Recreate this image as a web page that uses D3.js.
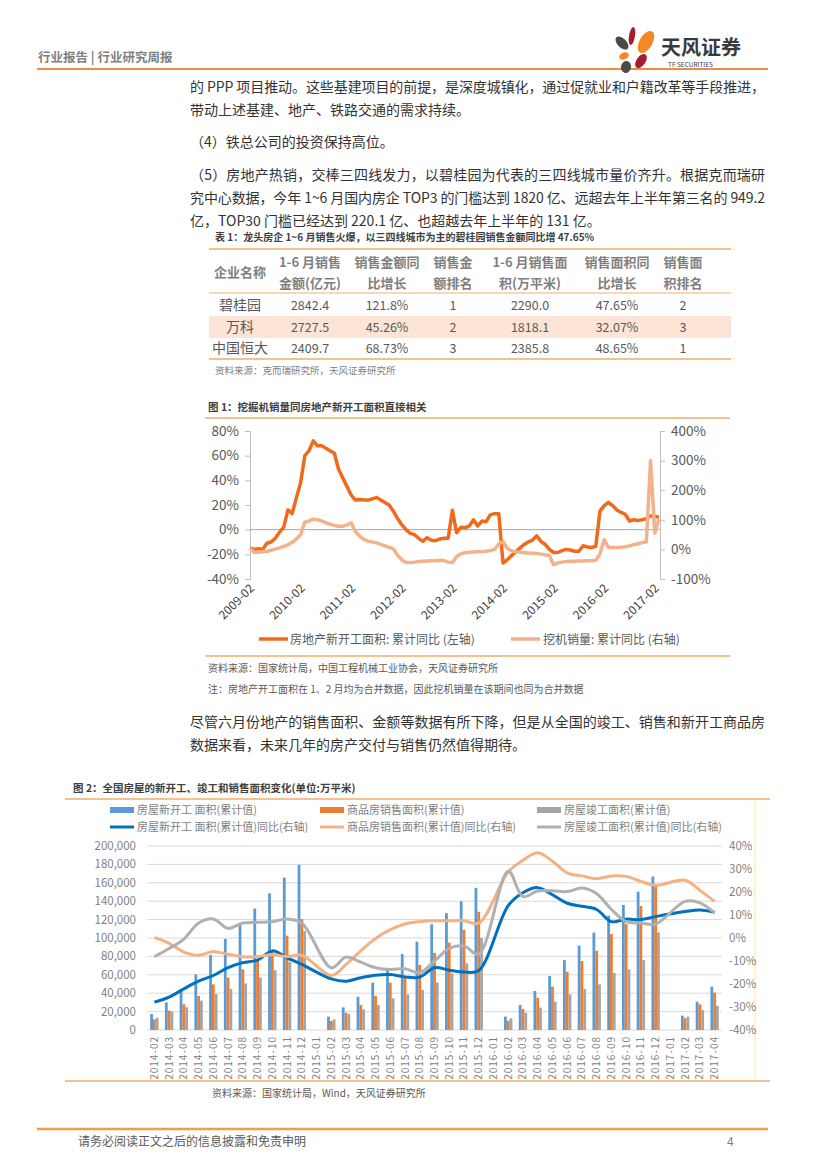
<!DOCTYPE html>
<html><head><meta charset="utf-8">
<script src="https://cdn.jsdelivr.net/npm/d3@7"></script>
<style>
body{margin:0;background:#fff}
svg{display:block}
text{font-family:"Noto Sans CJK SC","Noto Sans",sans-serif}
</style></head>
<body><svg id="page" width="827" height="1169"></svg>
<script>
// ---------------- DATA ----------------
const headerLeft = "行业报告 | 行业研究周报";
const para1 = [
  "的 PPP 项目推动。这些基建项目的前提，是深度城镇化，通过促就业和户籍改革等手段推进，",
  "带动上述基建、地产、铁路交通的需求持续。"
];
const para2 = "（4）铁总公司的投资保持高位。";
const para3 = [
  "（5）房地产热销，交棒三四线发力，以碧桂园为代表的三四线城市量价齐升。根据克而瑞研",
  "究中心数据，今年 1~6 月国内房企 TOP3 的门槛达到 1820 亿、远超去年上半年第三名的 949.2",
  "亿，TOP30 门槛已经达到 220.1 亿、也超越去年上半年的 131 亿。"
];
const para4 = [
  "尽管六月份地产的销售面积、金额等数据有所下降，但是从全国的竣工、销售和新开工商品房",
  "数据来看，未来几年的房产交付与销售仍然值得期待。"
];

// Table 1
const tableTitle = "表 1：龙头房企 1~6 月销售火爆，以三四线城市为主的碧桂园销售金额同比增 47.65%";
const tableHead1 = ["企业名称","1-6 月销售","销售金额同","销售金","1-6 月销售面","销售面积同","销售面"];
const tableHead2 = ["","金额(亿元)","比增长","额排名","积(万平米)","比增长","积排名"];
const companies = ["碧桂园","万科","中国恒大"];
const salesAmount = ["2842.4","2727.5","2409.7"];
const salesAmountYoY = ["121.8%","45.26%","68.73%"];
const salesAmountRank = ["1","2","3"];
const salesArea = ["2290.0","1818.1","2385.8"];
const salesAreaYoY = ["47.65%","32.07%","48.65%"];
const salesAreaRank = ["2","3","1"];
const tableSource = "资料来源：克而瑞研究所，天风证券研究所";

// Figure 1 (monthly 2009-02 .. 2017-03)
const fig1Title = "图 1：挖掘机销量同房地产新开工面积直接相关";
const fig1TickLabels = ["2009-02","2010-02","2011-02","2012-02","2013-02","2014-02","2015-02","2016-02","2017-02"];
const newStartsYoY = [-15,-16,-15.5,-16,-11,-10,-7,-2,2,16,13,26,
  38,60,64,72,68,68,66,64,62,49,42,35,
  28,24,24.5,24,24,25,26,24,22,20,15,9,
  4,0,-3,-4,-7,-9.5,-6.5,-8.5,-9,-7.5,-7,-7,
  15.7,-2.5,2,1.5,3,8,3,7,6.5,12,13,13,
  -27,-24.5,-21,-18,-15,-12,-10,-8.5,-5,-9.5,-12,-16,
  -18.5,-18.5,-17,-16,-16.5,-17.5,-17.5,-13,-14,-14.5,-13.5,15,
  19.5,22,19.5,16,14,12.5,7,8,7.5,8,9,11,
  11,10];
const excavatorYoY = [3,-10,-10,-8,-6,-3,1,5,10,16,24,35,
  50,92,96,102,100,96,90,85,81,78,78,83,
  90,60,45,34,28,25,22,17,12,7,2,-20,
  -35,-44,-44,-43,-41,-40,-39,-38,-38,-37,-38,-43,
  -44,-24,-15,-11,-10,-9,-8,-7,-6,-4,0,18,
  27,4,-5,-8,-10,-11,-12,-13,-14,-16,-18,-21,
  -52,-45,-43,-41,-40,-40,-39,-39,-38,-38,-37,-15,
  33,6,6,6,7,9,12,16,19,23,25,300,
  55,103];
const fig1LeftTicks = [-40,-20,0,20,40,60,80];
const fig1RightTicks = [-100,0,100,200,300,400];
const fig1Legend = ["房地产新开工面积: 累计同比 (左轴)","挖机销量: 累计同比 (右轴)"];
const fig1Source = "资料来源：国家统计局，中国工程机械工业协会，天风证券研究所";
const fig1Note = "注：房地产开工面积在 1、2 月均为合并数据，因此挖机销量在该期间也同为合并数据";

// Figure 2
const fig2Title = "图 2：全国房屋的新开工、竣工和销售面积变化(单位:万平米)";
const fig2Months = ["2014-02","2014-03","2014-04","2014-05","2014-06","2014-07","2014-08","2014-09","2014-10","2014-11","2014-12",
  "2015-01","2015-02","2015-03","2015-04","2015-05","2015-06","2015-07","2015-08","2015-09","2015-10","2015-11","2015-12",
  "2016-01","2016-02","2016-03","2016-04","2016-05","2016-06","2016-07","2016-08","2016-09","2016-10","2016-11","2016-12",
  "2017-01","2017-02","2017-03","2017-04"];
const newStartsArea = [17400,30000,42800,60500,81500,99000,115000,132000,148500,165600,179600,
  null,14500,24600,36200,51400,66000,82600,96000,115000,127000,140000,154500,
  null,14500,27200,42400,58700,76000,91700,105800,124300,135900,150400,166900,
  null,15600,30800,47100];
const salesArea2 = [11600,21000,28000,37000,49600,57000,66000,77000,87000,102500,120600,
  null,9800,18800,27200,37000,51400,56500,70700,83800,95000,109000,128500,
  null,10100,22800,35100,47100,63400,75000,86200,104300,115200,134800,157300,
  null,12700,27900,40600];
const completedArea = [13400,20000,24600,31900,39000,44600,50700,57000,65000,74000,107500,
  null,11600,17400,22500,27200,34400,38800,43500,51600,61500,72500,100000,
  null,12700,18800,24300,30800,38800,44600,49600,62000,66000,76000,106100,
  null,14500,21700,26400];
const newStartsAreaYoY = [-27.9,-25.7,-22.1,-18.8,-16.3,-12.9,-10.7,-9.6,-5.6,-8.6,-11.5,
  null,-17.8,-18.8,-17.3,-16.2,-15.9,-16.9,-17.0,-12.9,-14.0,-14.8,-14.1,
  null,14.1,19.7,21.9,18.8,15.1,13.8,12.4,7.1,8.2,8.0,9.3,
  null,11.5,12.2,11.2];
const salesAreaYoY2 = [0.2,-2.3,-6.1,-7.5,-5.9,-7.1,-8.1,-8.1,-7.2,-8.1,-7.5,
  null,-16.3,-11.5,-5.6,-0.2,3.6,6.1,7.1,7.5,7.5,7.5,6.5,
  null,28.7,33.8,37.1,33.4,28.3,27.0,25.8,27.0,26.8,24.6,22.9,
  null,25.1,20.7,15.9];
const completedAreaYoY = [-8.1,-4.6,-0.5,6.5,8.3,4.2,6.5,6.8,7.1,8.3,6.5,
  null,-12.9,-8.3,-10.5,-12.9,-13.7,-13.4,-15.1,-10.0,-4.5,-3.5,-7.0,
  null,29.0,18.0,20.4,20.5,20.2,21.7,19.2,12.4,7.1,6.5,6.1,
  null,15.9,15.3,10.9];
const fig2LeftTicks = [0,20000,40000,60000,80000,100000,120000,140000,160000,180000,200000];
const fig2RightTicks = [-40,-30,-20,-10,0,10,20,30,40];
const fig2Legend = ["房屋新开工 面积(累计值)","商品房销售面积(累计值)","房屋竣工面积(累计值)",
  "房屋新开工 面积(累计值)同比(右轴)","商品房销售面积(累计值)同比(右轴)","房屋竣工面积(累计值)同比(右轴)"];
const fig2Source = "资料来源：国家统计局，Wind，天风证券研究所";
const footerText = "请务必阅读正文之后的信息披露和免责申明";
const pageNumber = "4";

// ---------------- DRAW ----------------
const svg = d3.select("#page");
const ORANGE_LINE = "#ec8d3a";
const SEP_LINE = "#f3ad6b";
function t(x, y, s, o = {}) {
  const el = svg.append("text").attr("x", x).attr("y", y).text(s)
    .attr("font-size", o.size || 14).attr("fill", o.fill || "#333")
    .attr("text-anchor", o.anchor || "start");
  if (o.weight) el.attr("font-weight", o.weight);
  if (o.len) el.attr("textLength", o.len).attr("lengthAdjust", "spacing");
  return el;
}
function hline(x1, x2, y, c, w) {
  svg.append("line").attr("x1", x1).attr("x2", x2).attr("y1", y).attr("y2", y)
    .attr("stroke", c).attr("stroke-width", w);
}

// Header
t(38, 62, headerLeft, {size: 12.5, fill: "#7f7f7f", weight: "bold"});
hline(37, 768, 69, ORANGE_LINE, 2.2);
const petals = [
  {cx: 632, cy: 36, rx: 3, ry: 9, r: 10, c: "#a31d2e"},
  {cx: 646, cy: 42, rx: 6.5, ry: 12, r: 30, c: "#f08a24"},
  {cx: 622, cy: 43, rx: 4.5, ry: 8, r: -45, c: "#4a4a4a"},
  {cx: 624, cy: 56, rx: 5, ry: 3.5, r: -20, c: "#f08a24"},
  {cx: 641, cy: 61, rx: 4.5, ry: 8, r: 35, c: "#a31d2e"},
  {cx: 626, cy: 67, rx: 5, ry: 6, r: 10, c: "#4a4a4a"}
];
svg.selectAll("ellipse.petal").data(petals).join("ellipse").attr("class", "petal")
  .attr("cx", d => d.cx).attr("cy", d => d.cy).attr("rx", d => d.rx).attr("ry", d => d.ry)
  .attr("transform", d => `rotate(${d.r},${d.cx},${d.cy})`).attr("fill", d => d.c);
t(661, 55, "天风证券", {size: 20, fill: "#3a3a3a", weight: "bold"});
t(668, 67, "TF SECURITIES", {size: 6.5, fill: "#3a3a3a"});

// Body text
t(190, 92, para1[0], {len: 575});
t(190, 115, para1[1]);
t(190, 147, para2);
t(190, 180, para3[0], {len: 575});
t(190, 203, para3[1], {len: 575});
t(190, 226, para3[2]);

// Table 1
t(215, 241, tableTitle, {size: 10, fill: "#404040", weight: "bold"});
const colX = [240, 310, 387, 453, 530, 617, 683];
svg.append("rect").attr("x", 209).attr("y", 316).attr("width", 522).attr("height", 22).attr("fill", "#fce4d6");
hline(209, 731, 249, SEP_LINE, 1.5);
hline(209, 731, 293, SEP_LINE, 1.2);
hline(209, 731, 359, SEP_LINE, 1.5);
tableHead1.forEach((h, i) => {
  const y = i === 0 ? 277 : 267;
  t(colX[i], y, h, {size: 13, fill: "#7f7f7f", weight: "bold", anchor: "middle"});
});
tableHead2.forEach((h, i) => {
  if (h) t(colX[i], 288, h, {size: 13, fill: "#7f7f7f", weight: "bold", anchor: "middle"});
});
const rowsY = [310, 332, 353];
companies.forEach((c, r) => {
  const vals = [c, salesAmount[r], salesAmountYoY[r], salesAmountRank[r], salesArea[r], salesAreaYoY[r], salesAreaRank[r]];
  vals.forEach((v, i) => t(colX[i], rowsY[r], v, {size: i === 0 ? 14 : 12.5, fill: "#595959", anchor: "middle"}));
});
t(215, 374, tableSource, {size: 9.5, fill: "#7f7f7f"});

// Figure 1
t(208, 411, fig1Title, {size: 10.5, fill: "#404040", weight: "bold"});
hline(205, 730, 418, SEP_LINE, 1.5);
const x1 = d3.scaleLinear().domain([0, newStartsYoY.length - 1]).range([250, 659]);
const yL = d3.scaleLinear().domain([-40, 80]).range([579, 431]);
const yR = d3.scaleLinear().domain([-100, 400]).range([579, 431]);
const gL = svg.append("g").attr("transform", "translate(250,0)")
  .call(d3.axisLeft(yL).tickValues(fig1LeftTicks).tickFormat(d => d + "%").tickSize(5).tickPadding(6));
const gR = svg.append("g").attr("transform", "translate(660,0)")
  .call(d3.axisRight(yR).tickValues(fig1RightTicks).tickFormat(d => d + "%").tickSize(5).tickPadding(6));
[gL, gR].forEach(g => {
  g.selectAll("path,line").attr("stroke", "#bfbfbf");
  g.selectAll("text").attr("font-size", 13.5).attr("fill", "#595959")
    .attr("font-family", "'Liberation Sans', 'Noto Sans', sans-serif");
});
hline(250, 660, yL(0), "#a6a6a6", 1);
fig1TickLabels.forEach((lab, k) => {
  svg.append("text").text(lab).attr("font-size", 12).attr("fill", "#404040")
    .attr("font-family", "'Liberation Sans', 'Noto Sans', sans-serif")
    .attr("text-anchor", "end")
    .attr("transform", `translate(${x1(k * 12) + 5},${589}) rotate(-45)`);
});
const lineL = d3.line().x((d, i) => x1(i)).y(d => yL(d));
const lineR = d3.line().x((d, i) => x1(i)).y(d => yR(d));
svg.append("path").attr("d", lineL(newStartsYoY)).attr("fill", "none")
  .attr("stroke", "#f06a1c").attr("stroke-width", 3.5).attr("stroke-linejoin", "round");
svg.append("path").attr("d", lineR(excavatorYoY)).attr("fill", "none")
  .attr("stroke", "#f4b28a").attr("stroke-width", 3.5).attr("stroke-linejoin", "round");
// legend
hline(259, 288, 639, "#f06a1c", 3.5);
t(290, 644, fig1Legend[0], {size: 12, fill: "#595959"});
hline(511, 540, 639, "#f4b28a", 3.5);
t(543, 644, fig1Legend[1], {size: 12, fill: "#595959"});
hline(205, 730, 656, SEP_LINE, 1.5);
t(208, 672, fig1Source, {size: 10, fill: "#595959"});
t(208, 693, fig1Note, {size: 10, fill: "#595959"});

// Paragraph 4
t(190, 727, para4[0], {len: 575});
t(190, 750, para4[1]);

// Figure 2
t(73, 792, fig2Title, {size: 10.5, fill: "#404040", weight: "bold"});
hline(65, 770, 799, SEP_LINE, 1.5);
svg.append("line").attr("x1", 755).attr("x2", 755).attr("y1", 800).attr("y2", 1080)
  .attr("stroke", "#fbeebb").attr("stroke-width", 1.5);
const x2 = d3.scaleBand().domain(fig2Months).range([147, 722]);
const yB = d3.scaleLinear().domain([0, 200000]).range([1030, 846]);
const yP = d3.scaleLinear().domain([-40, 40]).range([1030, 846]);
svg.append("g").selectAll("line").data(fig2LeftTicks).join("line")
  .attr("x1", 147).attr("x2", 722).attr("y1", d => yB(d)).attr("y2", d => yB(d))
  .attr("stroke", "#d9d9d9").attr("stroke-width", 1);
svg.append("g").selectAll("text").data(fig2LeftTicks).join("text")
  .attr("x", 136).attr("y", d => yB(d) + 4).attr("text-anchor", "end")
  .attr("font-size", 11.5).attr("fill", "#7f7f7f")
  .attr("font-family", "'Liberation Sans', 'Noto Sans', sans-serif")
  .text(d => d3.format(",")(d));
svg.append("g").selectAll("text").data(fig2RightTicks).join("text")
  .attr("x", 729).attr("y", d => yP(d) + 4).attr("text-anchor", "start")
  .attr("font-size", 11.5).attr("fill", "#7f7f7f")
  .attr("font-family", "'Liberation Sans', 'Noto Sans', sans-serif")
  .text(d => d + "%");
const bw = 2.8;
const barSeries = [
  {vals: newStartsArea, c: "#5b9bd5", off: -4.2},
  {vals: salesArea2, c: "#ed7d31", off: -1.4},
  {vals: completedArea, c: "#a5a5a5", off: 1.4}
];
barSeries.forEach(s => {
  svg.append("g").selectAll("rect").data(fig2Months.map((m, i) => ({m, v: s.vals[i]})).filter(d => d.v != null))
    .join("rect")
    .attr("x", d => x2(d.m) + x2.bandwidth() / 2 + s.off)
    .attr("width", bw)
    .attr("y", d => yB(d.v)).attr("height", d => yB(0) - yB(d.v))
    .attr("fill", s.c);
});
const lineSeries = [
  {vals: newStartsAreaYoY, c: "#0070c0"},
  {vals: salesAreaYoY2, c: "#f4b183"},
  {vals: completedAreaYoY, c: "#b0b0b0"}
];
const line2 = d3.line().x(d => x2(d.m) + x2.bandwidth() / 2).y(d => yP(d.v)).curve(d3.curveCatmullRom.alpha(0.5));
lineSeries.forEach(s => {
  const pts = fig2Months.map((m, i) => ({m, v: s.vals[i]})).filter(d => d.v != null);
  svg.append("path").attr("d", line2(pts)).attr("fill", "none")
    .attr("stroke", s.c).attr("stroke-width", 3).attr("stroke-linejoin", "round");
});
fig2Months.forEach(m => {
  svg.append("text").text(m).attr("font-size", 10).attr("fill", "#7f7f7f")
    .attr("letter-spacing", 1)
    .attr("font-family", "'Liberation Sans', 'Noto Sans', sans-serif")
    .attr("text-anchor", "end")
    .attr("transform", `translate(${x2(m) + x2.bandwidth() / 2 + 3.5},1036) rotate(-90)`);
});
// legend
const legX = [110, 320, 537];
const legC = ["#5b9bd5", "#ed7d31", "#a5a5a5", "#0070c0", "#f4b183", "#b0b0b0"];
fig2Legend.forEach((s, i) => {
  const col = i % 3, row = Math.floor(i / 3);
  const y = row === 0 ? 810 : 827;
  if (row === 0) {
    svg.append("rect").attr("x", legX[col]).attr("y", y - 3).attr("width", 24).attr("height", 6).attr("fill", legC[i]);
  } else {
    hline(legX[col], legX[col] + 24, y, legC[i], 3);
  }
  t(legX[col] + 27, y + 4, s, {size: 11, fill: "#7f7f7f"});
});
hline(65, 770, 1081, SEP_LINE, 1.5);
t(212, 1097, fig2Source, {size: 10, fill: "#595959"});

// Footer
hline(37, 768, 1129, "#f0a040", 2.5);
t(78, 1146, footerText, {size: 12, fill: "#595959"});
t(727, 1146, pageNumber, {size: 12, fill: "#7f7f7f"});
</script></body></html>
